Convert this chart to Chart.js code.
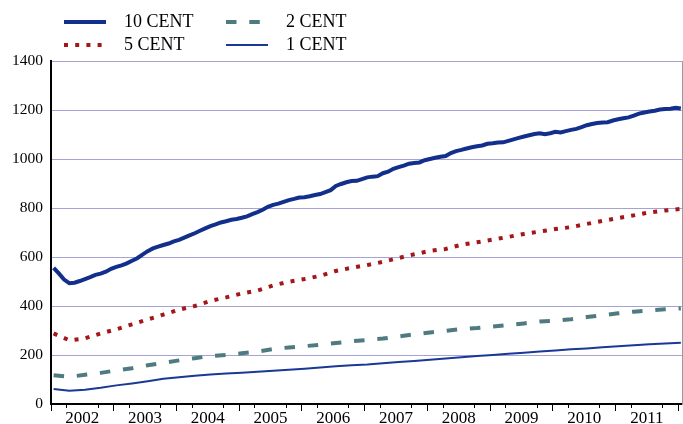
<!DOCTYPE html>
<html><head><meta charset="utf-8">
<script src="https://cdn.jsdelivr.net/npm/chart.js@4/dist/chart.umd.min.js"></script>
<style>
html,body{margin:0;padding:0;background:#fff;}
#wrap{position:relative;width:683px;height:424px;}
#legend{position:absolute;left:64px;top:10px;display:grid;grid-template-columns:162px auto;grid-template-rows:23px 23px;grid-auto-flow:column;font-family:'Liberation Serif','Times New Roman',serif;font-size:18px;color:#000;}
.item{display:flex;align-items:center;height:23px;line-height:23px;white-space:nowrap;}
.item svg{display:block;margin-right:18px;}
</style></head>
<body><div id="wrap"><canvas id="c" width="683" height="424"></canvas><div id="legend"></div></div>
<script>
// ---- data ----
const startYear = 2002;
const yearLabels = ['2002','2003','2004','2005','2006','2007','2008','2009','2010','2011'];
const seriesNames = ['10 CENT','5 CENT','2 CENT','1 CENT'];
// monthly, Jan 2002 .. Jan 2012
const tenCent = [
  556,533,508,493,495,502,510,518,527,532,540,552,
  560,566,574,585,595,610,624,635,642,649,655,664,
  670,679,688,697,707,717,726,733,741,746,752,755,
  760,766,775,783,793,805,813,818,825,832,837,843,
  844,848,853,857,865,873,890,898,905,910,911,918,
  925,928,930,942,948,960,967,973,981,984,986,995,
  1000,1005,1009,1012,1024,1032,1037,1043,1048,1052,1055,1062,
  1064,1067,1068,1074,1080,1086,1092,1097,1102,1105,1101,1105,
  1111,1108,1114,1119,1123,1130,1138,1143,1147,1149,1150,1157,
  1162,1166,1170,1177,1185,1190,1194,1197,1202,1204,1205,1209,
  1206
];
// quarterly (every 3rd month), Jan 2002 .. Jan 2012
const fiveCent = [288,260,268,288,305,325,345,365,385,400,421,435,451,463,484,499,510,523,543,556,567,580,596,611,625,633,650,660,671,682,694,704,714,722,735,747,759,770,782,790,796];
const twoCent = [117,111,119,127,137,146,158,168,178,187,196,200,207,214,224,231,236,242,249,256,261,267,276,284,292,298,306,310,316,322,329,337,340,346,355,362,370,377,382,387,390];
const oneCent = [61,54,58,66,76,84,93,103,109,115,120,124,128,132,136,140,144,149,154,158,161,166,171,176,181,186,191,196,200,205,209,214,218,223,227,232,236,240,244,247,250];
const yTicks = [0,200,400,600,800,1000,1200,1400];

// ---- helpers ----
const monthX = (i) => startYear + (i + 0.5) / 12;
const monthly = (arr) => arr.map((v, i) => ({x: monthX(i), y: v}));
const quarterly = (arr) => arr.map((v, k) => ({x: monthX(3 * k), y: v}));
const endYear = startYear + yearLabels.length;
const quarterTicks = [];
for (let q = 0; q <= yearLabels.length * 4; q++) quarterTicks.push(startYear + q / 4);
const yearTicks = [];
for (let y = 0; y <= yearLabels.length; y++) yearTicks.push(startYear + y);

Chart.defaults.font.family = "'Liberation Serif','Times New Roman',serif";
Chart.defaults.color = '#000';

const chart = new Chart(document.getElementById('c'), {
  type: 'line',
  data: {
    datasets: [
      {label: seriesNames[0], data: monthly(tenCent), borderColor: '#132f8c', borderWidth: 4, borderDash: [], pointRadius: 0, tension: 0},
      {label: seriesNames[1], data: quarterly(fiveCent), borderColor: '#a3161a', borderWidth: 4, borderDash: [4, 7.2], pointRadius: 0, tension: 0},
      {label: seriesNames[2], data: quarterly(twoCent), borderColor: '#4f7b80', borderWidth: 4, borderDash: [10.5, 12.8], pointRadius: 0, tension: 0},
      {label: seriesNames[3], data: quarterly(oneCent), borderColor: '#1a3896', borderWidth: 2, borderDash: [], pointRadius: 0, tension: 0}
    ]
  },
  options: {
    responsive: false,
    animation: false,
    events: [],
    layout: {padding: {top: 61, right: 1, bottom: 0, left: 0}},
    plugins: {legend: {display: false}, tooltip: {enabled: false}},
    scales: {
      x2: {
        type: 'linear', position: 'bottom', weight: 0,
        min: startYear, max: endYear + 0.06,
        afterBuildTicks: s => { s.ticks = yearTicks.map(v => ({value: v})); },
        afterFit: s => { s.height = 0; },
        grid: {drawOnChartArea: false, drawTicks: true, tickLength: 7, tickColor: '#000', tickWidth: 1},
        border: {display: false},
        ticks: {display: false}
      },
      x: {
        type: 'linear', position: 'bottom', weight: 1,
        min: startYear, max: endYear + 0.06,
        afterBuildTicks: s => { s.ticks = quarterTicks.map(v => ({value: v})); },
        afterFit: s => { s.height = 20; },
        grid: {
          drawOnChartArea: false, drawTicks: true, tickLength: 4, tickWidth: 1,
          tickColor: ctx => (ctx.tick && ctx.tick.value % 1 === 0.5) ? 'rgba(0,0,0,0)' : '#000'
        },
        border: {color: '#000', width: 2},
        ticks: {
          autoSkip: false, maxRotation: 0, minRotation: 0, padding: 0,
          font: {size: 17}, color: '#000',
          callback: v => (v % 1 === 0.5) ? yearLabels[Math.floor(v) - startYear] : ''
        }
      },
      y: {
        type: 'linear', position: 'left',
        min: 0, max: 1400,
        afterBuildTicks: s => { s.ticks = yTicks.map(v => ({value: v})); },
        afterFit: s => { s.width = 51; },
        grid: {color: '#a3a3d6', lineWidth: 1, drawTicks: false},
        border: {color: '#000', width: 2},
        ticks: {padding: 8, font: {size: 15.5}, color: '#000', callback: v => String(v)}
      },
      yR: {
        type: 'linear', position: 'right',
        min: 0, max: 1400,
        afterFit: s => { s.width = 0; },
        grid: {display: false, drawTicks: false},
        border: {color: '#9a9a9a', width: 1},
        ticks: {display: false}
      }
    }
  }
});

// HTML legend built from the datasets
const legendEl = document.getElementById('legend');
const svgNS = 'http://www.w3.org/2000/svg';
chart.data.datasets.forEach(ds => {
  const item = document.createElement('div');
  item.className = 'item';
  const svg = document.createElementNS(svgNS, 'svg');
  svg.setAttribute('width', '42');
  svg.setAttribute('height', '8');
  const ln = document.createElementNS(svgNS, 'line');
  ln.setAttribute('x1', '0'); ln.setAttribute('y1', '4');
  ln.setAttribute('x2', '42'); ln.setAttribute('y2', '4');
  ln.setAttribute('stroke', ds.borderColor);
  ln.setAttribute('stroke-width', ds.borderWidth);
  if (ds.borderDash && ds.borderDash.length) ln.setAttribute('stroke-dasharray', ds.borderDash.join(' '));
  svg.appendChild(ln);
  const span = document.createElement('span');
  span.textContent = ds.label;
  item.appendChild(svg);
  item.appendChild(span);
  legendEl.appendChild(item);
});
</script>
</body></html>
